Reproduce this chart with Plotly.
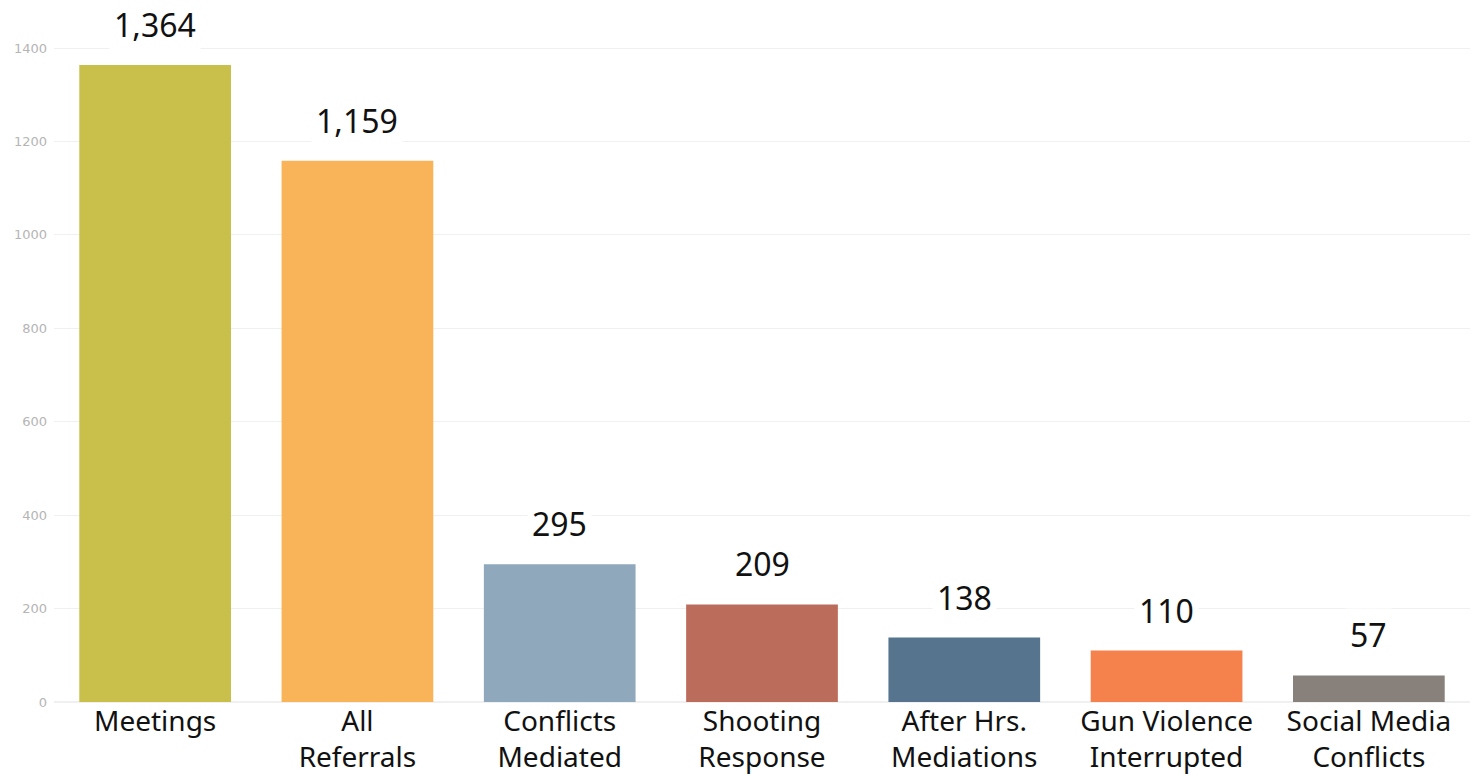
import plotly.graph_objects as go

categories = ["Meetings", "All<br>Referrals", "Conflicts<br>Mediated", "Shooting<br>Response",
              "After Hrs.<br>Mediations", "Gun Violence<br>Interrupted", "Social Media<br>Conflicts"]
values = [1364, 1159, 295, 209, 138, 110, 57]
value_labels = ["1,364", "1,159", "295", "209", "138", "110", "57"]
colors = ["#C9C04B", "#F9B45A", "#8FA8BC", "#BC6C5B", "#56748D", "#F5824C", "#88807A"]
y_ticks = [0, 200, 400, 600, 800, 1000, 1200, 1400]

fig = go.Figure()
fig.add_trace(go.Bar(x=categories, y=values, marker=dict(color=colors, line=dict(width=0)),
                     width=0.75, hoverinfo="skip"))

for c, v, t in zip(categories, values, value_labels):
    fig.add_annotation(x=c, y=v, text=t, showarrow=False, yanchor="bottom", yshift=14,
                       font=dict(family="Noto Sans", size=32, color="#111"),
                       bgcolor="white", borderpad=4)

fig.update_layout(
    width=1480, height=776,
    margin=dict(l=54, r=10, t=0, b=74),
    paper_bgcolor="white", plot_bgcolor="white",
    showlegend=False,
    xaxis=dict(tickfont=dict(family="Noto Sans", size=28, color="#111"),
               showgrid=False, zeroline=False, ticks="", showline=False),
    yaxis=dict(range=[0, 1503], tickvals=y_ticks,
               tickfont=dict(family="DejaVu Sans", size=13, color="#b5b5b5"),
               ticklabelstandoff=6,
               gridcolor="#f0f0f0", gridwidth=1, zeroline=True, zerolinecolor="#f0f0f0",
               showline=False, ticks=""),
)

fig.write_html("out.html", config={"displayModeBar": False},
               post_script="document.body.style.margin='0';")
